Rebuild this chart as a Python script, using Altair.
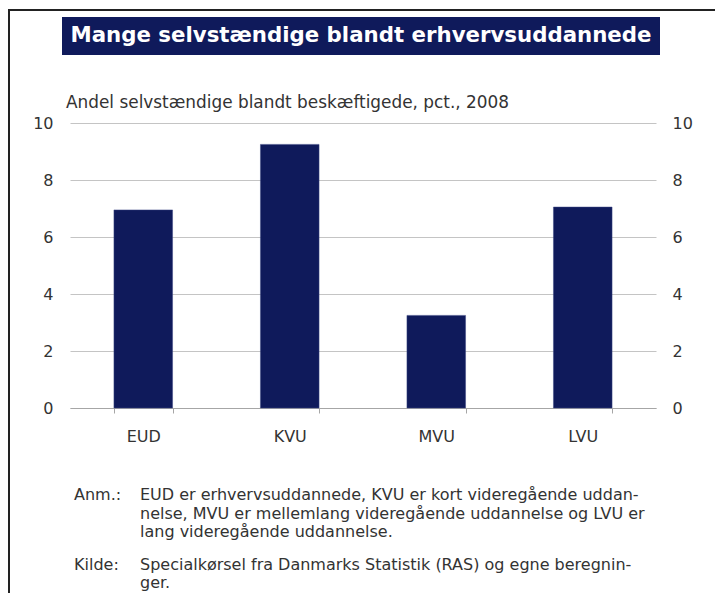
import altair as alt
import pandas as pd

categories = ["EUD", "KVU", "MVU", "LVU"]
values = [6.95, 9.25, 3.25, 7.05]
y_ticks = [0, 2, 4, 6, 8, 10]
title_text = "Mange selvstændige blandt erhvervsuddannede"
subtitle_text = "Andel selvstændige blandt beskæftigede, pct., 2008"
note_label_1 = "Anm.:"
note_lines_1 = [
    "EUD er erhvervsuddannede, KVU er kort videregående uddan-",
    "nelse, MVU er mellemlang videregående uddannelse og LVU er",
    "lang videregående uddannelse.",
]
note_label_2 = "Kilde:"
note_lines_2 = [
    "Specialkørsel fra Danmarks Statistik (RAS) og egne beregnin-",
    "ger.",
]

df = pd.DataFrame({"cat": categories, "val": values})

NAVY = "#0f1a5b"
FONT = "DejaVu Sans"
TXT = "#333333"
W, H = 586, 285
NOTE_SIZE = 16.0

x_enc = alt.X(
    "cat:N",
    sort=categories,
    scale=alt.Scale(paddingInner=0.6, paddingOuter=0.3),
    axis=alt.Axis(
        title=None, labelAngle=0, domainColor="#a6a6a6", tickColor="#a6a6a6",
        tickBand="extent", tickSize=5, labelPadding=15, labelFont=FONT,
        labelFontSize=16, labelColor=TXT,
    ),
)

bars = alt.Chart(df).mark_bar(color=NAVY, stroke="#3a4480", strokeWidth=0.5).encode(
    x=x_enc,
    y=alt.Y(
        "val:Q",
        scale=alt.Scale(domain=[0, 10], nice=False),
        axis=alt.Axis(
            title=None, values=y_ticks, orient="left", grid=True, gridColor="#c4c4c4",
            domain=False, ticks=False, labelPadding=17, labelFont=FONT,
            labelFontSize=16, labelColor=TXT,
        ),
    ),
)

right = alt.Chart(df).mark_bar(opacity=0).encode(
    x=alt.X("cat:N", sort=categories),
    y=alt.Y(
        "val:Q",
        scale=alt.Scale(domain=[0, 10], nice=False),
        axis=alt.Axis(
            title=None, values=y_ticks, orient="right", grid=False,
            domain=False, ticks=False, labelPadding=16, labelFont=FONT,
            labelFontSize=16, labelColor=TXT,
        ),
    ),
)

one = alt.Data(values=[{"k": 1}])

title_box = alt.Chart(one).mark_rect(color=NAVY).encode(
    x=alt.value(-8), x2=alt.value(590), y=alt.value(-106), y2=alt.value(-68)
)
title_mark = alt.Chart(one).mark_text(
    font=FONT, fontSize=21.3, fontWeight="bold", color="white", align="center", baseline="middle"
).encode(x=alt.value(291), y=alt.value(-87), text=alt.value(title_text))

subtitle = alt.Chart(one).mark_text(
    font=FONT, fontSize=16.9, color=TXT, align="left", baseline="middle"
).encode(x=alt.value(-4), y=alt.value(-20), text=alt.value(subtitle_text))

note1_lab = alt.Chart(one).mark_text(
    font=FONT, fontSize=NOTE_SIZE, color=TXT, align="left", baseline="middle"
).encode(x=alt.value(4), y=alt.value(372), text=alt.value(note_label_1))
note1 = alt.Chart(one).mark_text(
    font=FONT, fontSize=NOTE_SIZE, color=TXT, align="left", baseline="middle", lineHeight=18.5
).encode(x=alt.value(70), y=alt.value(372), text=alt.value(note_lines_1))
note2_lab = alt.Chart(one).mark_text(
    font=FONT, fontSize=NOTE_SIZE, color=TXT, align="left", baseline="middle"
).encode(x=alt.value(4), y=alt.value(442), text=alt.value(note_label_2))
note2 = alt.Chart(one).mark_text(
    font=FONT, fontSize=NOTE_SIZE, color=TXT, align="left", baseline="middle", lineHeight=17.5
).encode(x=alt.value(70), y=alt.value(442), text=alt.value(note_lines_2))

border_left = alt.Chart(one).mark_rule(color="#222222", strokeWidth=2).encode(
    x=alt.value(-61), y=alt.value(-113), y2=alt.value(H + 200)
)
border_top = alt.Chart(one).mark_rule(color="#222222", strokeWidth=2).encode(
    x=alt.value(-62), x2=alt.value(W + 100), y=alt.value(-113)
)

chart = alt.layer(
    bars, right, title_box, title_mark, subtitle,
    note1_lab, note1, note2_lab, note2, border_left, border_top,
).resolve_scale(y="independent").properties(
    width=W, height=H,
    autosize=alt.AutoSizeParams(type="none"),
    padding={"left": 62, "top": 115, "right": 59, "bottom": 185},
).configure_view(stroke=None)

chart.save("out.html", embed_options={"renderer": "svg", "actions": False})
